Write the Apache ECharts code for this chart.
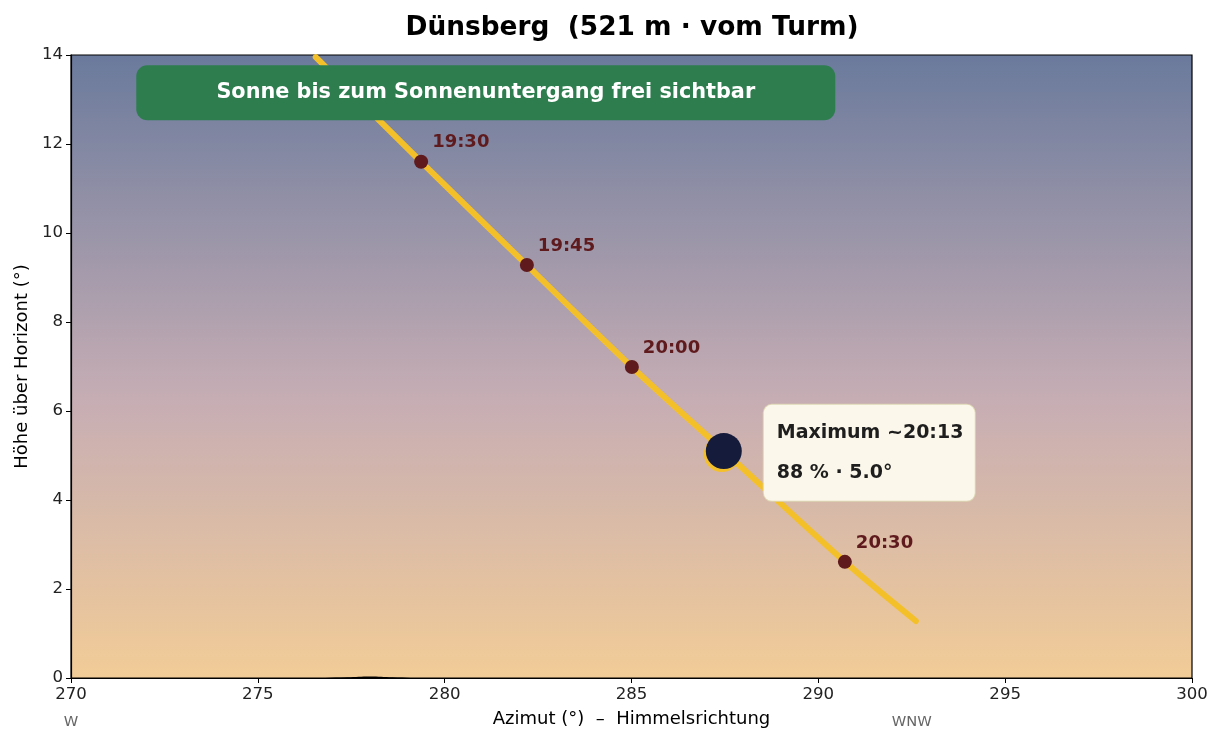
<!DOCTYPE html>
<html><head><meta charset="utf-8">
<script src="https://cdn.jsdelivr.net/npm/echarts@6/dist/echarts.min.js"></script>
<style>html,body{margin:0;padding:0;background:#fff}#c{width:1224px;height:744px}</style>
</head><body><div id="c"></div>
<script>
const titleText = 'Dünsberg  (521 m · vom Turm)';
const xTicks = [270, 275, 280, 285, 290, 295, 300];
const yTicks = [0, 2, 4, 6, 8, 10, 12, 14];
const compassAz = [270, 292.5];
const compassNames = ['W', 'WNW'];
const sunPath = [[276.55, 13.95], [279.37, 11.6], [282.2, 9.28], [285.01, 6.99], [287.47, 5.1], [290.71, 2.61], [292.61, 1.28]];
const timeMarks = [[279.37, 11.6, '19:30'], [282.2, 9.28, '19:45'], [285.01, 6.99, '20:00'], [290.71, 2.61, '20:30']];
const maxPoint = [287.47, 5.1];
const maxInfo = ['Maximum ~20:13', '88 % · 5.0°'];
const horizon = [[270, -0.3], [275, -0.2], [276.5, -0.02], [277.4, 0.015], [278, 0.035], [278.6, 0.015], [279.5, -0.02], [282, -0.2], [290, -0.4], [300, -0.5]];
const bannerText = 'Sonne bis zum Sonnenuntergang frei sichtbar';
const bannerAnchor = [281.1, 13.15];
const infoAnchor = [288.54, 5.06];

const F = 'DejaVu Sans';
const chart = echarts.init(document.getElementById('c'));
chart.setOption({
  animation: false,
  textStyle: { fontFamily: F },
  title: { text: titleText, left: 627, top: 10, textAlign: 'center',
    textStyle: { fontFamily: F, fontSize: 26.4, fontWeight: 'bold', color: '#000' } },
  grid: { left: 71, right: 32, top: 55, bottom: 66, show: true, borderColor: '#000', borderWidth: 1.2,
    backgroundColor: new echarts.graphic.LinearGradient(0, 0, 0, 1, [
      { offset: 0, color: '#6a7a9c' }, { offset: 0.55, color: '#c6adb4' }, { offset: 1, color: '#f2cc97' }]) },
  xAxis: [{
    type: 'value', min: 270, max: 300, interval: 5,
    name: 'Azimut (°)  –  Himmelsrichtung', nameLocation: 'middle', nameGap: 32,
    nameTextStyle: { fontFamily: F, fontSize: 18, color: '#000' },
    axisLine: { show: true, lineStyle: { color: '#000', width: 1.2 } },
    axisTick: { show: true, length: 5, lineStyle: { color: '#000' } },
    axisLabel: { fontFamily: F, fontSize: 16.6, color: '#222', margin: 8 },
    splitLine: { show: false }
  }, {
    type: 'value', min: 270, max: 300, position: 'bottom', offset: 29,
    axisLine: { show: false }, axisTick: { show: false }, splitLine: { show: false },
    axisLabel: { customValues: compassAz, fontFamily: F, fontSize: 14.7, color: '#666',
      formatter: v => compassNames[compassAz.indexOf(v)] || '' }
  }],
  yAxis: {
    type: 'value', min: 0, max: 14, interval: 2,
    name: 'Höhe über Horizont (°)', nameLocation: 'middle', nameGap: 38, nameRotate: 90,
    nameTextStyle: { fontFamily: F, fontSize: 18, color: '#000' },
    axisLine: { show: true, lineStyle: { color: '#000', width: 1.2 } },
    axisTick: { show: true, length: 5, lineStyle: { color: '#000' } },
    axisLabel: { fontFamily: F, fontSize: 16.6, color: '#222', margin: 8 },
    splitLine: { show: false }
  },
  series: [
    { type: 'line', data: horizon, smooth: 0.4, symbol: 'none', lineStyle: { width: 0 },
      areaStyle: { color: '#000', opacity: 1, origin: 'start' }, z: 2 },
    { type: 'line', data: sunPath, smooth: 0.3, symbol: 'none',
      lineStyle: { color: '#f4c02a', width: 6, cap: 'round' }, z: 3 },
    { type: 'scatter', data: timeMarks.map(d => [d[0], d[1], d[2]]), symbolSize: 14,
      itemStyle: { color: '#5e1a1d', opacity: 1 }, z: 4,
      label: { show: true, position: 'inside', align: 'left', verticalAlign: 'middle', offset: [11, -19],
        formatter: p => p.data[2], fontFamily: F, fontSize: 18, fontWeight: 'bold', color: '#5e1a1d' } },
    { type: 'scatter', data: [maxPoint], symbolSize: 36, symbolOffset: [-2, 3],
      itemStyle: { color: '#f4c02a', opacity: 1 }, z: 5 },
    { type: 'scatter', data: [maxPoint], symbolSize: 36,
      itemStyle: { color: '#151b3a', opacity: 1 }, z: 6 },
    { type: 'scatter', data: [infoAnchor], symbolSize: 0, z: 7, silent: true,
      itemStyle: { opacity: 1 },
      label: { show: true, position: 'inside', align: 'left', verticalAlign: 'middle',
        formatter: maxInfo.join('\n'), fontFamily: F, fontSize: 19, fontWeight: 'bold', color: '#1e1e1e',
        lineHeight: 40, width: 188, padding: [8, 10, 8, 13],
        backgroundColor: '#fbf7ea', borderColor: '#ddd6b4', borderWidth: 1, borderRadius: 8 } },
    { type: 'scatter', data: [bannerAnchor], symbolSize: 0, z: 7, silent: true,
      itemStyle: { opacity: 1 },
      label: { show: true, position: 'inside', align: 'center', verticalAlign: 'middle',
        formatter: bannerText, fontFamily: F, fontSize: 20.8, fontWeight: 'bold', color: '#fff',
        width: 699, height: 55, lineHeight: 55, padding: 0,
        backgroundColor: '#2e7d4f', borderRadius: 11 } }
  ]
});
</script></body></html>
